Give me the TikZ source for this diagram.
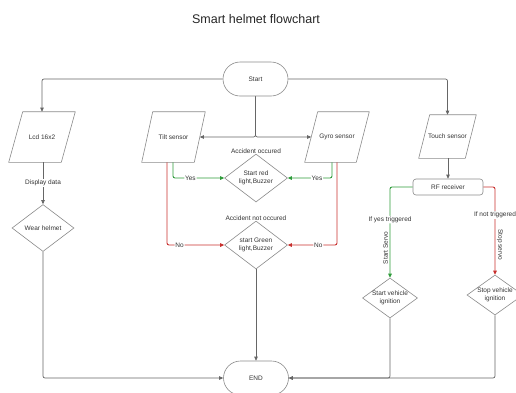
\documentclass[tikz,border=0pt]{standalone}
\usepackage{fontspec}
\setmainfont{Liberation Sans}
\usetikzlibrary{shapes.geometric,shapes.misc,arrows.meta,calc}
\definecolor{lin}{HTML}{666666}
\definecolor{shp}{HTML}{8A8A8A}
\definecolor{gr}{HTML}{2E9B3A}
\definecolor{rd}{HTML}{C8302E}
\definecolor{txt}{HTML}{333333}
\tikzset{
  base/.style={draw=shp, line width=0.6pt, text=txt, font=\fontsize{6.5}{7.5}\selectfont, align=center, inner sep=0pt},
  parabox/.style={base, draw=none, rectangle},
  paraline/.style={draw=shp, line width=0.6pt, line join=round},
  dia/.style={base, diamond, inner sep=-8pt},
  term/.style={base, rounded rectangle, minimum width=65, minimum height=34},
  box/.style={base, rectangle, rounded corners=3, minimum width=70, minimum height=16},
  arr/.style={draw=lin, line width=0.7pt, -{Triangle[length=4pt,width=3.5pt]}},
  garr/.style={arr, draw=gr, line width=0.9pt, -{Triangle[length=4pt,width=3.5pt,fill=gr]}},
  rarr/.style={arr, draw=rd, line width=0.9pt, -{Triangle[length=4pt,width=3.5pt,fill=rd]}},
  lab/.style={fill=white, inner sep=0.8pt, text=txt, font=\fontsize{6.5}{7.5}\selectfont, align=center},
  slab/.style={inner sep=1.5pt, text=txt, font=\fontsize{6.5}{7.5}\selectfont}
}
% name, x, y, width, height, slant, text
\newcommand\myparallel[7]{%
  \node[parabox, minimum width=#4, minimum height=#5] (#1) at (#2,#3) {#7};
  \draw[paraline] (#1.south west) -- ([xshift=-#6]#1.south east) -- (#1.north east) -- ([xshift=#6]#1.north west) -- cycle;
}
\begin{document}
\begin{tikzpicture}[x=1pt,y=-1pt]
\useasboundingbox (0,0) rectangle (516,392);
\clip (0,0) rectangle (516,392);
\node[text=black!85, font=\fontsize{12.5}{14}\selectfont] (title) at (256,19) {Smart helmet flowchart};

\node[term] (start) at (255.5,79) {Start};
\node[term] (end) at (256,378) {END};

\myparallel{lcd}{42}{137}{66}{50}{14}{Lcd 16x2}
\myparallel{tilt}{173.5}{137}{63}{50}{11}{Tilt sensor}
\myparallel{gyro}{337}{137}{64}{50}{13}{Gyro sensor}
\myparallel{touch}{447.5}{136.5}{57}{43}{11}{Touch sensor}

\node[dia, minimum width=62, minimum height=47] (wear) at (43,228) {Wear helmet};
\node[dia, minimum width=63, minimum height=48] (rdia) at (256,178) {Start red\\light,Buzzer};
\node[dia, minimum width=63, minimum height=48] (gdia) at (256,245) {start Green\\light,Buzzer};
\node[box] (rf) at (448,187) {RF receiver};
\node[dia, minimum width=55, minimum height=40] (sv) at (390,298) {Start vehicle\\ignition};
\node[dia, minimum width=56, minimum height=40] (spv) at (495,295) {Stop vehicle\\ignition};

\node[lab] (acc) at (256,151) {Accident occured};
\node[lab] (nacc) at (256,218) {Accident not occured};

\draw[arr, rounded corners=2] (start.west) -| (lcd.north);
\draw[arr, rounded corners=2] (start.east) -| (touch.north);
\draw[arr, rounded corners=2] (start.south) |- ([xshift=-5.5]tilt.east);
\draw[arr, rounded corners=2] (start.south) |- ([xshift=6.5]gyro.west);

\draw[arr] (lcd.south -| wear.north) -- node[lab]{Display data} (wear.north);
\draw[arr, rounded corners=2] (wear.south) |- (end.west);
\draw[arr] (gdia.south) -- (end.north);
\draw[arr, rounded corners=2] (sv.south) |- (end.east);
\draw[arr, rounded corners=2] (spv.south) |- (end.east);

\draw[garr, rounded corners=2] ([xshift=-0.5]tilt.south) |- node[lab,pos=0.67]{Yes} (rdia.west);
\draw[rarr, rounded corners=2] ([xshift=-6.5]tilt.south) |- node[lab,pos=0.61]{No} (gdia.west);
\draw[garr, rounded corners=2] ([xshift=-5]gyro.south) |- node[lab,pos=0.67]{Yes} (rdia.east);
\draw[rarr, rounded corners=2] (gyro.south) |- node[lab,pos=0.69]{No} (gdia.east);

\draw[arr] (touch.south -| rf.north) -- (rf.north);
\draw[garr, rounded corners=2] (rf.west) -| node[lab,pos=0.68]{If yes triggered} node[slab,pos=0.835,rotate=90,anchor=south]{Start Servo} (sv.north);
\draw[rarr, rounded corners=2] (rf.east) -| node[lab,pos=0.66]{If not triggered} node[slab,pos=0.83,rotate=-90,anchor=south]{Stop servo} (spv.north);
\end{tikzpicture}
\end{document}
